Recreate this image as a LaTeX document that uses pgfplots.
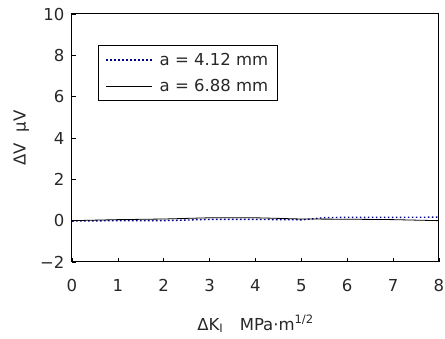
\documentclass[border=0pt]{standalone}
\usepackage{fontspec}
\setmainfont{DejaVu Sans}
\usepackage{pgfplots}
\pgfplotsset{compat=1.18}
\definecolor{dotblue}{RGB}{0,0,140}
\definecolor{txt}{RGB}{40,40,40}
\begin{document}
\begin{tikzpicture}
\begin{axis}[
  at={(0,0)}, anchor=south west,
  scale only axis,
  width=367pt, height=248pt,
  xmin=0, xmax=8, ymin=-2, ymax=10,
  xtick={0,1,...,8},
  ytick={-2,0,2,4,6,8,10},
  yticklabels={−2,0,2,4,6,8,10},
  /pgf/number format/assume math mode=true,
  tick align=inside,
  xtick pos=bottom, ytick pos=left,
  major tick length=4pt,
  tick style={black, line width=0.6pt},
  axis line style={line width=1pt},
  tick label style={font=\fontsize{16.5}{20}\selectfont, text=txt},
  xticklabel style={yshift=-14pt},
  yticklabel style={xshift=-4pt},
  label style={font=\fontsize{16.5}{20}\selectfont, text=txt},
  xlabel={ΔK\textsubscript{I}\quad MPa·m\textsuperscript{1/2}},
  ylabel={ΔV\ \ μV},
  xlabel style={at={(axis description cs:0.5,-0.25)}, anchor=center},
  ylabel style={at={(axis description cs:-0.138,0.5)}, anchor=center},
  legend style={at={(0.0708,0.875)}, anchor=north west, draw=black, line width=0.6pt,
    font=\fontsize{16.5}{20}\selectfont, text=txt, inner xsep=7pt, inner ysep=6pt, row sep=8pt,
    cells={anchor=west},
    /tikz/every odd column/.append style={column sep=5pt}},
  legend image code/.code={\draw[#1] (0pt,0pt) -- (46pt,0pt);},
]
\addplot[dotblue, line width=1.4pt, dash pattern=on 1.6pt off 2.4pt] coordinates {
(0,-0.02) (1,0.0) (2,0.0) (2.5,0.03) (3,0.06) (4,0.06) (5,0.04) (5.3,0.1) (5.5,0.15) (6,0.16) (7,0.16) (8,0.17)};
\addlegendentry{a = 4.12 mm}
\addplot[black, line width=0.8pt] coordinates {
(0,0.0) (1,0.05) (2,0.08) (3,0.14) (4,0.14) (5,0.08) (6,0.07) (7,0.05) (8,0.0)};
\addlegendentry{a = 6.88 mm}
\end{axis}
\pgfresetboundingbox
\path (-72pt,-77pt) rectangle (373pt,262pt);
\end{tikzpicture}
\end{document}
